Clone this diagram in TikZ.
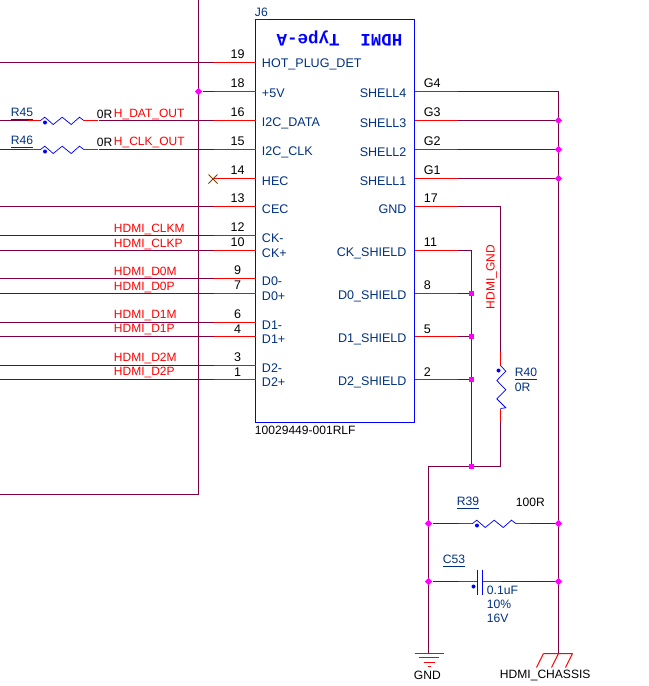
\documentclass[tikz,border=0pt]{standalone}
\usepackage{fontspec}
\setmainfont{Liberation Sans}
\newfontfamily\monob{Liberation Mono}
\usetikzlibrary{shapes.geometric}
\definecolor{wirec}{HTML}{7F0040}
\definecolor{navyc}{HTML}{00307F}
\definecolor{magc}{HTML}{FF00FF}
\definecolor{brownc}{HTML}{804000}
\tikzset{
  wire/.style={draw=wirec,line width=0.75pt},
  pinl/.style={draw=red,line width=0.75pt},
  part/.style={draw=blue,line width=0.55pt,line join=miter},
  jd/.style={shape=diamond,fill=magc,inner sep=0pt,minimum size=5.6pt},
  js/.style={shape=rectangle,fill=magc,inner sep=0pt,minimum size=3.9pt},
  refd/.style={text=navyc,font=\fontsize{9.1}{10}\selectfont,inner sep=0pt,yshift=-0.4pt,xshift=-0.6pt},
  num/.style={text=black,font=\fontsize{9.4}{10}\selectfont,inner sep=0pt,yshift=-0.4pt,xshift=-0.6pt},
  pname/.style={text=navyc,font=\fontsize{9.4}{10}\selectfont,inner sep=0pt,yshift=-0.4pt,xshift=-0.6pt},
  netl/.style={text=red,font=\fontsize{9}{10}\selectfont,inner sep=0pt,yshift=-0.4pt,xshift=-0.6pt},
  valn/.style={text=black,font=\fontsize{9.05}{10}\selectfont,inner sep=0pt,yshift=-0.4pt,xshift=-0.6pt},
  pics/reshz/.style={code={
    \draw[part] (0,0)--(4.3,-3.3)--(12.7,4)--(21.7,-3.3)--(30.7,4)--(39,-3.3)--(43.3,0);
    \fill[blue] (4.5,2) circle (1.5pt);
  }},
}
\begin{document}
\begin{tikzpicture}[x=0.75pt,y=-0.75pt]
\useasboundingbox (0,0) rectangle (649,686);
\begin{scope}[xshift=0.375pt,yshift=-0.375pt]
% outer sheet frame
\coordinate (ftop) at (198,-1);
\coordinate (fcor) at (198,494);
\coordinate (fend) at (-1,494);
\draw[wire] (ftop)--(fcor)--(fend);
% connector body
\node[draw=blue,line width=0.75pt,outer sep=0pt,minimum width=119.25pt,minimum height=302.25pt,inner sep=0pt,anchor=north west] (J6) at (255,19) {};
\node[text=blue,font=\monob\bfseries\fontsize{13.1}{14}\selectfont,rotate=180,inner sep=0pt] (title) at (339,38) {HDMI\ \ Type-A};
\node[refd,anchor=west] (j6ref) at (255,13) {\underline{J6}};
\node[valn,anchor=west] (j6val) at (255,429) {10029449-001RLF};
% left pins
\foreach \n/\y in {19/62,16/120,15/149,13/206,12/235,10/250,9/278,7/293,6/322,4/336,3/365,1/379,18/91}{
  \coordinate (a\n) at (255,\y);
  \coordinate (b\n) at (213,\y);
  \draw[pinl] (a\n)--(b\n);
}
\foreach \n/\y in {19/62,13/206,12/235,10/250,9/278,7/293,6/322,4/336,3/365,1/379}{
  \coordinate (c\n) at (-1,\y);
  \draw[wire] (b\n)--(c\n);
}
% pin 18 junction
\node[jd] (j18) at (198,91) {};
\draw[wire] (j18)--(b18);
% no-connect pin 14
\coordinate (a14) at (255,178);
\coordinate (x14) at (212.5,178);
\draw[pinl] (a14)--(x14);
\draw[draw=brownc,line width=0.6pt] (208,174)--(217,183) (208,183)--(217,174);
% series resistors
\foreach \r/\y/\n in {45/120/16,46/149/15}{
  \coordinate (rl\r) at (40,\y);
  \coordinate (rr\r) at (83.3,\y);
  \coordinate (rm\r) at (27,\y);
  \coordinate (rn\r) at (97,\y);
  \coordinate (ro\r) at (98,\y);
  \coordinate (re\r) at (-1,\y);
  \draw[wire] (re\r)--(rm\r);
  \draw[pinl] (rm\r)--(rl\r);
  \pic at (rl\r) {reshz};
  \draw[pinl] (rr\r)--(rn\r);
  \draw[wire] (ro\r)--(b\n);
}
\node[refd,anchor=west] (r45) at (11,113) {\underline{R45}};
\node[refd,anchor=west] (r46) at (11,141) {\underline{R46}};
\node[valn,anchor=west] (r45v) at (97,113.5) {0R};
\node[valn,anchor=west] (r46v) at (97,141.5) {0R};
\node[netl,anchor=west] (n1) at (114,113) {H\_DAT\_OUT};
\node[netl,anchor=west] (n2) at (114,141.5) {H\_CLK\_OUT};
% left pin numbers
\foreach \t/\y in {19/53,18/82,16/111,15/140,14/169,13/197,12/226,10/241,9/269,7/284,6/313,4/328,3/356,1/371}{
  \node[num] (pn\t) at (238,\y) {\t};
}
% net labels
\foreach \m/\t/\y in {a/CLKM/228,b/CLKP/243,c/D0M/271,d/D0P/286,e/D1M/314.5,f/D1P/328.5,g/D2M/357,h/D2P/371.5}{
  \node[netl,anchor=west] (net\m) at (114,\y) {HDMI\_\t};
}
% left pin names
\foreach \m/\t/\y in {a/HOT\_PLUG\_DET/63.5,b/+5V/92.5,c/I2C\_DATA/122,d/I2C\_CLK/151,e/HEC/180,f/CEC/208,g/CK-/237,h/CK+/252,i/D0-/280,j/D0+/295,k/D1-/324,l/D1+/338,m/D2-/367,n/D2+/381}{
  \node[pname,anchor=west] (pl\m) at (262,\y) {\t};
}
% right pin names
\foreach \m/\t/\y in {a/SHELL4/92.5,b/SHELL3/122,c/SHELL2/151,d/SHELL1/180,e/GND/208,f/CK\_SHIELD/252,g/D0\_SHIELD/295,h/D1\_SHIELD/338,i/D2\_SHIELD/381}{
  \node[pname,anchor=east] (pr\m) at (407,\y) {\t};
}
% right pin numbers
\foreach \t/\y in {G4/82,G3/111,G2/140,G1/169,17/197,11/241,8/284,5/328,2/371}{
  \node[num,anchor=west] (qn\t) at (424,\y) {\t};
}
% chassis rail
\coordinate (s4) at (558,91);
\coordinate (chs) at (558,653);
\draw[wire] (s4)--(chs);
\coordinate (ra4) at (414,91);
\coordinate (rb4) at (457,91);
\draw[pinl] (ra4)--(rb4);
\draw[wire] (rb4)--(s4);
\foreach \m/\y in {3/120,2/149,1/178}{
  \coordinate (ra\m) at (414,\y);
  \coordinate (rb\m) at (457,\y);
  \node[jd] (sj\m) at (558,\y) {};
  \draw[pinl] (ra\m)--(rb\m);
  \draw[wire] (rb\m)--(sj\m);
}
% GND pin 17 and R40
\coordinate (g0) at (414,206);
\coordinate (g1) at (457,206);
\coordinate (g2) at (500,206);
\coordinate (g3) at (500,351);
\coordinate (g4) at (500,365);
\coordinate (g5) at (500,408);
\coordinate (g6) at (500,421);
\coordinate (g7) at (500,466);
\draw[pinl] (g0)--(g1);
\draw[wire] (g1)--(g2)--(g3);
\draw[pinl] (g3)--(g4);
\draw[part] (g4)--(505.3,370.7)--(496.3,380)--(505.3,389.3)--(496.3,398.3)--(505.3,407.3)--(g5);
\fill[blue] (498,370) circle (1.5pt);
\draw[pinl] (g5)--(g6);
\draw[wire] (g6)--(g7);
\node[refd,anchor=west] (r40) at (515,373) {\underline{R40}};
\node[pname,anchor=west,font=\fontsize{9.1}{10}\selectfont] (r40v) at (515,386.5) {0R};
\node[netl,rotate=90] (hg) at (492,276) {HDMI\_GND};
% shield rail
\coordinate (sh0) at (414,250);
\coordinate (sh1) at (457,250);
\coordinate (sh2) at (471,250);
\node[js] (sjb) at (471,466) {};
\draw[pinl] (sh0)--(sh1);
\draw[wire] (sh1)--(sh2)--(sjb);
\foreach \m/\y in {8/293,5/336,2/379}{
  \coordinate (ta\m) at (414,\y);
  \coordinate (tb\m) at (457,\y);
  \node[js] (sj\m) at (471,\y) {};
  \draw[pinl] (ta\m)--(tb\m);
  \draw[wire] (tb\m)--(sj\m);
}
% ground rail
\coordinate (gt) at (428,466);
\coordinate (gb) at (428,653);
\draw[wire] (g7)--(sjb)--(gt)--(gb);
% R39
\node[jd] (l39) at (428,523) {};
\node[jd] (e39) at (558,523) {};
\coordinate (r39a) at (458,523);
\coordinate (r39b) at (472,523);
\coordinate (r39c) at (515.3,523);
\coordinate (r39d) at (529,523);
\draw[wire] (l39)--(r39a);
\draw[pinl] (r39a)--(r39b);
\pic at (r39b) {reshz};
\draw[pinl] (r39c)--(r39d);
\draw[wire] (r39d)--(e39);
\node[refd,anchor=west] (r39) at (457,502) {\underline{R39}};
\node[valn,anchor=west] (r39v) at (516,501) {100R};
% C53
\node[jd] (l53) at (428,581) {};
\node[jd] (e53) at (558,581) {};
\coordinate (c53a) at (458,581);
\coordinate (c53b) at (476.7,581);
\coordinate (c53c) at (481.7,581);
\coordinate (c53d) at (500,581);
\draw[wire] (l53)--(c53a);
\draw[pinl] (c53a)--(c53b);
\draw[pinl] (c53c)--(c53d);
\draw[wire] (c53d)--(e53);
\draw[draw=blue,line width=0.9pt] (476.7,569)--(476.7,594) (481.7,569)--(481.7,594);
\fill[blue] (473,586) circle (1.5pt);
\node[refd,anchor=west] (c53) at (443,560) {\underline{C53}};
\node[pname,anchor=west,font=\fontsize{9.1}{10}\selectfont] (c53v) at (487,589) {0.1uF};
\node[pname,anchor=west,font=\fontsize{9.1}{10}\selectfont] (c53t) at (487,603) {10\%};
\node[pname,anchor=west,font=\fontsize{9.1}{10}\selectfont] (c53u) at (487,617) {16V};
% GND symbol
\draw[pinl] (414,653)--(443,653) (418,657)--(438,657) (423,662)--(434,662) (427,666)--(430,666);
\node[valn,anchor=west] (gndl) at (414,674.5) {GND};
% chassis symbol
\draw[pinl] (543,653)--(572,653) (543,653)--(536,667) (558,653)--(551,667) (572,653)--(565,667);
\node[valn,anchor=west] (chl) at (500,674.5) {HDMI\_CHASSIS};
\end{scope}
\end{tikzpicture}
\end{document}
